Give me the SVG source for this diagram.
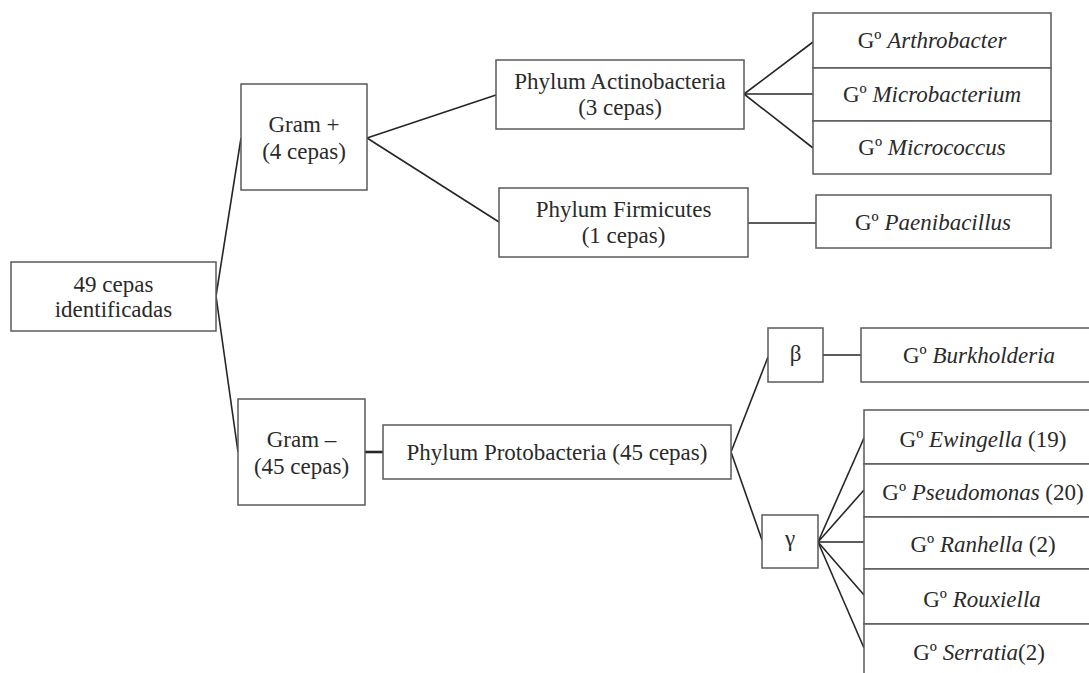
<svg xmlns="http://www.w3.org/2000/svg" width="1089" height="673" viewBox="0 0 1089 673">
  <style>
    .box { fill: #ffffff; stroke: #5a5a5a; stroke-width: 1.5; }
    .lbl { font-family: 'Liberation Serif', 'DejaVu Serif', 'Times New Roman', serif; font-size: 23px; fill: #2a2a2a; text-anchor: middle; }
    .it { font-style: italic; }
    .edge { stroke: #262626; stroke-width: 1.6; fill: none; }
  </style>
  <rect x="0" y="0" width="1089" height="673" fill="#ffffff"/>

  <!-- connectors -->
  <g id="connectors">
    <polyline class="edge" points="241,138 216,296 238,452"/>
    <line class="edge" x1="367" y1="138" x2="496" y2="95"/>
    <line class="edge" x1="367" y1="138" x2="499" y2="222"/>
    <line class="edge" x1="744" y1="94" x2="813" y2="42"/>
    <line class="edge" x1="744" y1="94" x2="813" y2="94"/>
    <line class="edge" x1="744" y1="94" x2="813" y2="148"/>
    <line class="edge" x1="748" y1="223" x2="816" y2="223"/>
    <line class="edge" x1="365" y1="452" x2="383" y2="452" style="stroke-width:2.6"/>
    <line class="edge" x1="731" y1="452" x2="768" y2="357"/>
    <line class="edge" x1="731" y1="452" x2="762" y2="540"/>
    <line class="edge" x1="823" y1="355" x2="861" y2="355"/>
    <line class="edge" x1="818" y1="542" x2="864" y2="438"/>
    <line class="edge" x1="818" y1="542" x2="864" y2="490"/>
    <line class="edge" x1="818" y1="542" x2="864" y2="542"/>
    <line class="edge" x1="818" y1="542" x2="864" y2="595"/>
    <line class="edge" x1="818" y1="542" x2="864" y2="648"/>
  </g>

  <!-- root -->
  <g id="root">
    <rect class="box" x="11" y="262" width="205" height="69"/>
    <text class="lbl" x="113.5" y="292">49 cepas</text>
    <text class="lbl" x="113.5" y="317">identificadas</text>
  </g>

  <!-- Gram groups -->
  <g id="gram-pos">
    <rect class="box" x="241" y="84" width="126" height="106"/>
    <text class="lbl" x="304" y="132">Gram +</text>
    <text class="lbl" x="304" y="159">(4 cepas)</text>
  </g>
  <g id="gram-neg">
    <rect class="box" x="238" y="399" width="127" height="106"/>
    <text class="lbl" x="301.5" y="447">Gram –</text>
    <text class="lbl" x="301.5" y="474">(45 cepas)</text>
  </g>

  <!-- phyla -->
  <g id="actinobacteria">
    <rect class="box" x="496" y="60" width="248" height="69"/>
    <text class="lbl" x="620" y="89">Phylum Actinobacteria</text>
    <text class="lbl" x="620" y="115">(3 cepas)</text>
  </g>
  <g id="firmicutes">
    <rect class="box" x="499" y="188" width="249" height="69"/>
    <text class="lbl" x="623.5" y="217">Phylum Firmicutes</text>
    <text class="lbl" x="623.5" y="243">(1 cepas)</text>
  </g>
  <g id="protobacteria">
    <rect class="box" x="383" y="425" width="348" height="54"/>
    <text class="lbl" x="557" y="460">Phylum Protobacteria (45 cepas)</text>
  </g>

  <!-- Actinobacteria genera -->
  <g id="arthrobacter">
    <rect class="box" x="813" y="13" width="238" height="55"/>
    <text class="lbl" x="932" y="48">Gº <tspan class="it">Arthrobacter</tspan></text>
  </g>
  <g id="microbacterium">
    <rect class="box" x="813" y="68" width="238" height="53"/>
    <text class="lbl" x="932" y="102">Gº <tspan class="it">Microbacterium</tspan></text>
  </g>
  <g id="micrococcus">
    <rect class="box" x="813" y="121" width="238" height="53"/>
    <text class="lbl" x="932" y="155">Gº <tspan class="it">Micrococcus</tspan></text>
  </g>
  <g id="paenibacillus">
    <rect class="box" x="816" y="195" width="235" height="53"/>
    <text class="lbl" x="933" y="230">Gº <tspan class="it">Paenibacillus</tspan></text>
  </g>

  <!-- Proteobacteria classes -->
  <g id="beta">
    <rect class="box" x="768" y="328" width="55" height="54"/>
    <text class="lbl" x="795.5" y="361">β</text>
  </g>
  <g id="gamma">
    <rect class="box" x="762" y="515" width="56" height="53"/>
    <text class="lbl" x="790" y="546">γ</text>
  </g>

  <!-- Proteobacteria genera -->
  <g id="burkholderia">
    <rect class="box" x="861" y="328" width="240" height="54"/>
    <text class="lbl" x="979" y="363">Gº <tspan class="it">Burkholderia</tspan></text>
  </g>
  <g id="ewingella">
    <rect class="box" x="864" y="410" width="240" height="54"/>
    <text class="lbl" x="983" y="447">Gº <tspan class="it">Ewingella</tspan> (19)</text>
  </g>
  <g id="pseudomonas">
    <rect class="box" x="864" y="464" width="240" height="53"/>
    <text class="lbl" x="983" y="500">Gº <tspan class="it">Pseudomonas</tspan> (20)</text>
  </g>
  <g id="ranhella">
    <rect class="box" x="864" y="517" width="240" height="52"/>
    <text class="lbl" x="983" y="552">Gº <tspan class="it">Ranhella</tspan> (2)</text>
  </g>
  <g id="rouxiella">
    <rect class="box" x="864" y="569" width="240" height="55"/>
    <text class="lbl" x="982" y="607">Gº <tspan class="it">Rouxiella</tspan></text>
  </g>
  <g id="serratia">
    <rect class="box" x="864" y="624" width="240" height="60"/>
    <text class="lbl" x="979" y="660">Gº <tspan class="it">Serratia</tspan>(2)</text>
  </g>
</svg>
